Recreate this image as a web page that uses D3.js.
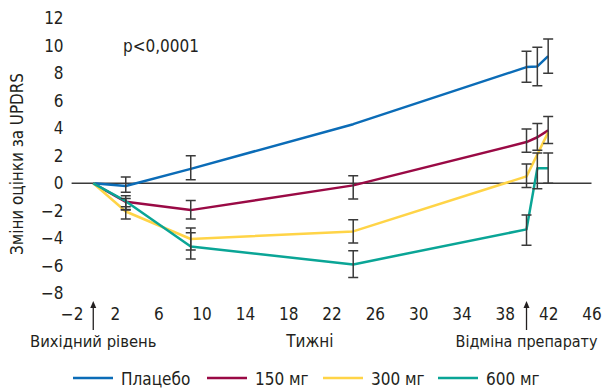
<!DOCTYPE html>
<html>
<head>
<meta charset="utf-8">
<script src="https://cdn.jsdelivr.net/npm/d3@7"></script>
<style>
  body { margin: 0; background: #fff; }
  svg text { font-family: "Liberation Sans Narrow", "DejaVu Sans Condensed", sans-serif; fill: #231f20; }
</style>
</head>
<body>
<div id="chart"></div>
<script>
const width = 603;
const height = 388;

// weeks of measurement
const weeks = [0, 3, 9, 24, 40, 41, 42];

// mean change in UPDRS (null = no point)
const placebo = [0, -0.2, 1.05, 4.3, 8.45, 8.5, 9.25];
const mg150 = [0, -1.35, -1.95, -0.15, 3.0, 3.35, 3.85];
const mg300 = [0, -2.05, -4.05, -3.5, 0.5, null, 3.7];
const mg600 = [0, -1.3, -4.6, -5.9, -3.35, 1.1, 1.1];

// error bars [upper, lower] (null = none drawn)
const placeboErr = [null, [0.45, -0.65], [2.0, 0.25], null, [9.6, 7.35], [9.9, 7.1], [10.5, 8.0]];
const mg150Err = [null, [-0.9, -1.9], [-1.25, -2.6], [0.55, -1.15], [3.95, 2.25], [4.35, 2.4], [4.85, 2.9]];
const mg300Err = [null, [-1.7, -2.6], [-3.25, -4.85], [-2.65, -4.35], [1.4, -0.3], null, null];
const mg600Err = [null, [-1.1, -1.95], [-3.6, -5.5], [-4.9, -6.85], [-2.3, -4.5], [2.2, -0.4], [2.2, 0.0]];

const seriesNames = ["Плацебо", "150 мг", "300 мг", "600 мг"];
const seriesColors = ["#0b6cb7", "#9a0a45", "#ffd447", "#0aa596"];

const xTicks = [-2, 2, 6, 10, 14, 18, 22, 26, 30, 34, 38, 42, 46];
const yTicks = [-8, -6, -4, -2, 0, 2, 4, 6, 8, 10, 12];

const series = [
    { name: seriesNames[0], color: seriesColors[0], values: placebo, err: placeboErr },
    { name: seriesNames[1], color: seriesColors[1], values: mg150, err: mg150Err },
    { name: seriesNames[2], color: seriesColors[2], values: mg300, err: mg300Err },
    { name: seriesNames[3], color: seriesColors[3], values: mg600, err: mg600Err }
];

const x = d3.scaleLinear().domain([-2, 46]).range([71.6, 591.5]);
const y = d3.scaleLinear().domain([-8, 12]).range([293.3, 18.3]);

const svg = d3.select("#chart")
    .append("svg")
    .attr("width", width)
    .attr("height", height);

// Y axis (labels only)
const yAxis = svg.append("g")
    .attr("transform", "translate(" + x(-2) + ",0)")
    .call(d3.axisLeft(y).tickValues(yTicks).tickSize(0).tickPadding(8));
yAxis.select(".domain").remove();
yAxis.selectAll("text").style("font-size", "17px");

// X axis (labels only)
const xAxis = svg.append("g")
    .attr("transform", "translate(0,296)")
    .call(d3.axisBottom(x).tickValues(xTicks).tickSize(0).tickPadding(12));
xAxis.select(".domain").remove();
xAxis.selectAll("text").style("font-size", "17px");

// zero line
svg.append("line")
    .attr("x1", x(-2))
    .attr("x2", x(46))
    .attr("y1", y(0))
    .attr("y2", y(0))
    .attr("stroke", "#3a3a3a")
    .attr("stroke-width", 1.5);

// Series lines
const line = d3.line()
    .x(d => x(d.w))
    .y(d => y(d.v));

svg.append("g")
    .selectAll("path")
    .data(series)
    .enter()
    .append("path")
    .attr("d", s => line(weeks.map((w, i) => ({ w: w, v: s.values[i] })).filter(d => d.v !== null)))
    .attr("fill", "none")
    .attr("stroke", s => s.color)
    .attr("stroke-width", 2.5)
    .attr("stroke-linejoin", "round");

// Error bars
const bars = [];
series.forEach(s => {
    s.err.forEach((e, i) => {
        if (e) bars.push({ w: weeks[i], hi: e[0], lo: e[1] });
    });
});
const capW = 5;
const barG = svg.append("g")
    .attr("stroke", "#3a3a3a")
    .attr("stroke-width", 1.5)
    .attr("fill", "none");
barG.selectAll("path")
    .data(bars)
    .enter()
    .append("path")
    .attr("d", d => {
        const cx = x(d.w), y1 = y(d.hi), y2 = y(d.lo);
        return "M" + (cx - capW) + "," + y1 + "H" + (cx + capW) +
            "M" + cx + "," + y1 + "V" + y2 +
            "M" + (cx - capW) + "," + y2 + "H" + (cx + capW);
    });

// p-value
svg.append("text")
    .attr("x", 123)
    .attr("y", 52)
    .style("font-size", "17px")
    .text("p<0,0001");

// Y title
svg.append("text")
    .attr("transform", "translate(23," + 164 + ") rotate(-90)")
    .attr("text-anchor", "middle")
    .attr("textLength", 182)
    .attr("lengthAdjust", "spacingAndGlyphs")
    .style("font-size", "17px")
    .text("Зміни оцінки за UPDRS");

// arrows for baseline and withdrawal
const arrowWeeks = [0, 40];
const arrG = svg.append("g");
arrowWeeks.forEach(w => {
    arrG.append("line")
        .attr("x1", x(w)).attr("x2", x(w))
        .attr("y1", 304).attr("y2", 330)
        .attr("stroke", "#231f20")
        .attr("stroke-width", 1.3);
    arrG.append("path")
        .attr("d", "M" + (x(w) - 3) + ",308L" + x(w) + ",301L" + (x(w) + 3) + ",308Z")
        .attr("fill", "#231f20");
});

// bottom labels
const bottomLabels = [
    { text: "Вихідний рівень", w: 0, size: 16.5 },
    { text: "Тижні", w: 20, size: 17 },
    { text: "Відміна препарату", w: 40, size: 16 }
];
svg.append("g")
    .selectAll("text")
    .data(bottomLabels)
    .enter()
    .append("text")
    .attr("x", d => x(d.w))
    .attr("y", 347)
    .attr("text-anchor", "middle")
    .style("font-size", d => d.size + "px")
    .text(d => d.text);

// Legend
const legendX = [73, 207, 323, 438];
const lg = svg.append("g");
series.forEach((s, i) => {
    lg.append("line")
        .attr("x1", legendX[i]).attr("x2", legendX[i] + 40)
        .attr("y1", 378).attr("y2", 378)
        .attr("stroke", s.color)
        .attr("stroke-width", 2.5);
    lg.append("text")
        .attr("x", legendX[i] + 48)
        .attr("y", 385)
        .style("font-size", "17px")
        .text(s.name);
});
</script>
</body>
</html>
